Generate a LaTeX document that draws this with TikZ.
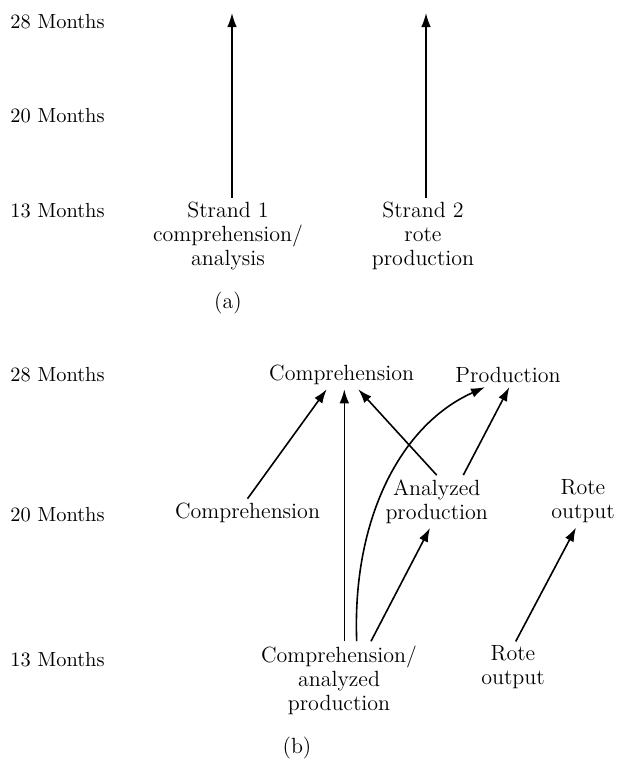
\documentclass[tikz,border=0pt]{standalone}
\usetikzlibrary{arrows.meta,calc}
\begin{document}
\begin{tikzpicture}[x=0.5pt,y=-0.5pt,font=\fontsize{11}{12}\selectfont,
    lbl/.style={align=center,inner sep=2pt},
    age/.style={anchor=west,inner sep=0pt,font=\fontsize{10.2}{12}\selectfont},
    arr/.style={line width=0.8pt,-{Latex[length=7pt,width=4.8pt]}}]
    \useasboundingbox (0,0) rectangle (619,766);

    % --- Part (a): ages ---
    \node[age] (a28) at (10,22) {28 Months};
    \node[age] (a20) at (10,116) {20 Months};
    \node[age] (a13) at (10,211) {13 Months};

    % --- Part (a): strands ---
    \node[lbl] (s1) at (228,236) {Strand 1\\comprehension/\\analysis};
    \node[lbl] (s2) at (423,236) {Strand 2\\rote\\production};
    \coordinate (t1) at (232,13);
    \coordinate (t2) at (426,13);
    \draw[arr] (s1.north -| t1) -- (t1);
    \draw[arr] (s2.north -| t2) -- (t2);
    \node (capa) at (228,303) {(a)};

    % --- Part (b): ages ---
    \node[age] (b28) at (10,375) {28 Months};
    \node[age] (b20) at (10,515) {20 Months};
    \node[age] (b13) at (10,660) {13 Months};

    % --- Part (b): 28 months ---
    \node[lbl] (tcomp) at (341.7,375) {Comprehension};
    \node[lbl] (tprod) at (508,375) {Production};

    % --- Part (b): 20 months ---
    \node[lbl] (mcomp) at (247.5,513) {Comprehension};
    \node[lbl] (anprod) at (436.7,501.5) {Analyzed\\production};
    \node[lbl] (mrote) at (583,501.5) {Rote\\output};

    % --- Part (b): 13 months ---
    \node[lbl] (bcomp) at (339,680) {Comprehension/\\analyzed\\production};
    \node[lbl] (brote) at (513,667.5) {Rote\\output};
    \node (capb) at (297,748) {(b)};

    % --- Part (b): arrows ---
    \draw[arr] (mcomp.north) -- ($(tcomp.south)+(-15,0)$);
    \draw[arr] ($(bcomp.north)+(5.3,0)$) -- ($(tcomp.south)+(2.6,0)$);
    \draw[arr] ($(bcomp.north)+(17.7,0)$) .. controls (352,520) and (400,425) .. ($(tprod.south)+(-23,0)$);
    \draw[arr] (anprod.north) -- ($(tcomp.south)+(16.6,0)$);
    \draw[arr] ($(anprod.north)+(26.6,0)$) -- ($(tprod.south)+(1.3,0)$);
    \draw[arr] ($(bcomp.north)+(32,0)$) -- ($(anprod.south)+(-6.7,0)$);
    \draw[arr] ($(brote.north)+(2.7,0)$) -- ($(mrote.south)+(-7,0)$);
\end{tikzpicture}
\end{document}
